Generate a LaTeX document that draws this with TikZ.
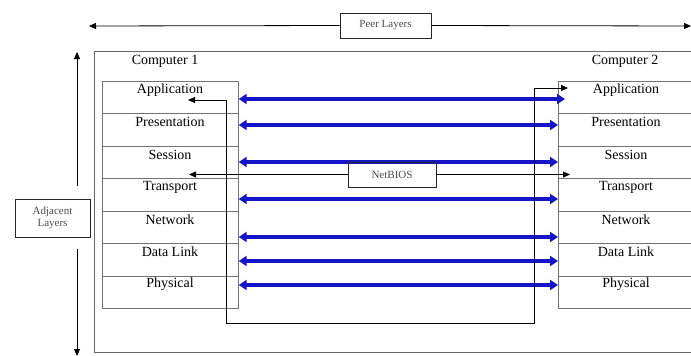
\documentclass[tikz,border=0pt]{standalone}
\usepackage{fontspec}
\setmainfont{Liberation Serif}
\usetikzlibrary{arrows.meta}
\begin{document}
\begin{tikzpicture}[x=1pt,y=-1pt,
  cell/.style={draw=black!55, line width=0.7pt, minimum width=136pt, minimum height=32.43pt, inner sep=0pt, anchor=north west},
  rcell/.style={draw=black!55, line width=0.7pt, minimum width=150pt, minimum height=32.43pt, inner sep=0pt, anchor=north west},
  lbl/.style={font=\fontsize{14}{14}\selectfont, inner sep=0pt},
  smallbox/.style={draw=black!85, line width=0.9pt, font=\fontsize{11}{12}\selectfont, text=black!70, inner sep=0pt, align=center},
  bluearr/.style={draw={rgb,255:red,20;green,20;blue,200}, line width=3.2pt, {Triangle[length=8pt,width=10pt]}-{Triangle[length=8pt,width=10pt]}},
  blk/.style={draw=black, line width=0.8pt},
  tip/.style={-{Triangle[length=7pt,width=6pt]}}
]
\useasboundingbox (0,0) rectangle (691,356);
\clip (0,0) rectangle (691,356);
\fill[white] (0,0) rectangle (691,356);

% outer frame
\draw[black!60, line width=0.9pt] (94,51) rectangle (720,352);

% peer layers
\node[smallbox, minimum width=91pt, minimum height=25pt] (peer) at (385.5,25.5) {Peer Layers};
\coordinate (peerL) at (89,26);
\coordinate (peerR) at (691,26);
\draw[blk, tip] (peer.west) -- (peerL);
\draw[blk, tip] (peer.east) -- (peerR);

% adjacent layers
\node[smallbox, minimum width=75pt, minimum height=38pt] (adj) at (52.5,218) {Adjacent\\Layers};
\coordinate (adjT1) at (77,186);
\coordinate (adjT2) at (77,52);
\coordinate (adjB1) at (77,249);
\coordinate (adjB2) at (77,356);
\draw[blk, tip] (adjT1) -- (adjT2);
\draw[blk, tip] (adjB1) -- (adjB2);

% computer labels
\node[lbl] (c1) at (165,61) {Computer 1};
\node[lbl] (c2) at (625,61) {Computer 2};

% stacks
\foreach \i/\t in {1/Application,2/Presentation,3/Session,4/Transport,5/Network,6/Data Link,7/Physical} {
  \node[cell] (L\i) at (102,{81+32.43*(\i-1)}) {};
  \node[lbl] (Lt\i) at (170,{90+32.43*(\i-1)}) {\t};
  \node[rcell] (R\i) at (558,{81+32.43*(\i-1)}) {};
  \node[lbl] (Rt\i) at (626,{90+32.43*(\i-1)}) {\t};
}

% blue peer arrows
\draw[bluearr] (L1.east |- 0,99) -- ([xshift=7pt]R1.west |- 0,99);
\draw[bluearr] (L2.east |- 0,125) -- (R2.west |- 0,125);
\draw[bluearr] (L3.east |- 0,162) -- (R3.west |- 0,162);
\draw[bluearr] (L4.east |- 0,199) -- (R4.west |- 0,199);
\draw[bluearr] (L5.east |- 0,237) -- (R5.west |- 0,237);
\draw[bluearr] (L6.east |- 0,261) -- (R6.west |- 0,261);
\draw[bluearr] (L7.east |- 0,285) -- (R7.west |- 0,285);

% black application connector
\coordinate (appL) at (188,100);
\coordinate (appR) at (568,88);
\draw[blk, {Triangle[length=7pt,width=6pt]}-{Triangle[length=7pt,width=6pt]}]
  (appL) -- (226,100) -- (226,323) -- (534,323) -- (534,88) -- (appR);

% NetBIOS
\node[smallbox, minimum width=88pt, minimum height=25pt] (nb) at (392,174.5) {NetBIOS};
\coordinate (nbL) at (189,174.5);
\coordinate (nbR) at (570,174.5);
\draw[blk, tip] (nb.west) -- (nbL);
\draw[blk, tip] (nb.east) -- (nbR);
\end{tikzpicture}
\end{document}
